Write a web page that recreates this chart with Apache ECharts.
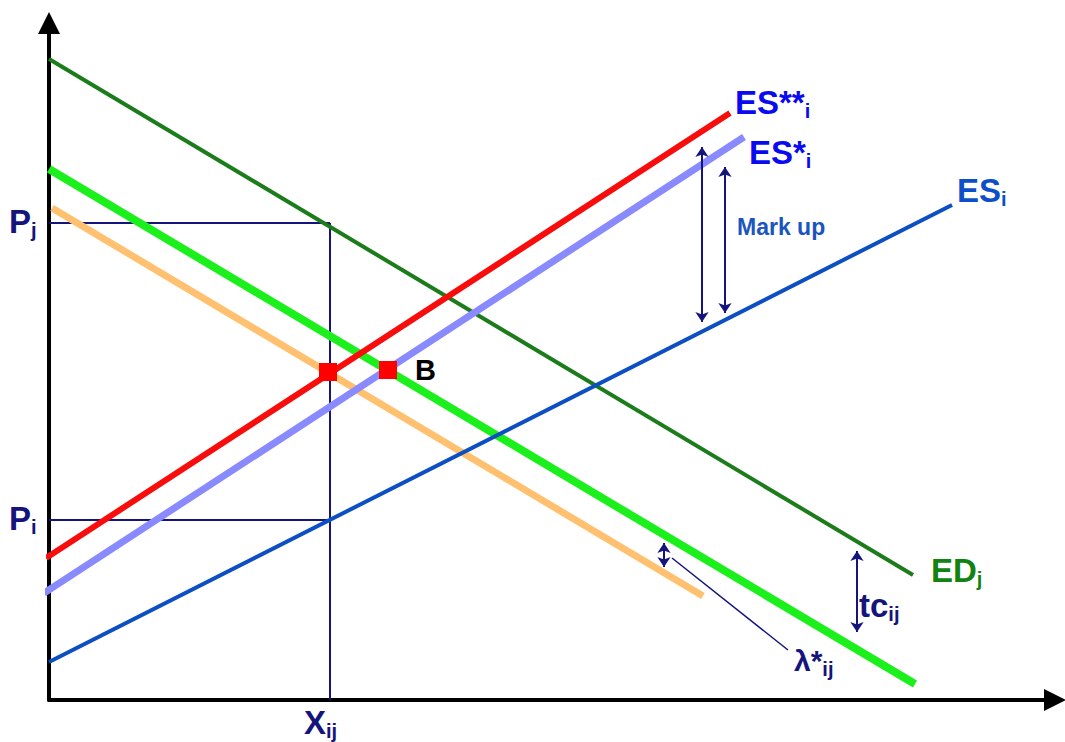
<!DOCTYPE html>
<html>
<head>
<meta charset="utf-8">
<script src="https://cdn.jsdelivr.net/npm/echarts@6/dist/echarts.min.js"></script>
<style>
  html, body { margin: 0; padding: 0; background: #fff; }
  #chart { width: 1065px; height: 742px; }
</style>
</head>
<body>
<div id="chart"></div>
<script>
// curves: [x, y] end points, origin at the axis corner
var edJ      = [[0, 641], [864, 125]];
var edJStar  = [[0, 531], [866, 16]];
var orange   = [[3, 492], [654, 104]];
var esI2     = [[-3, 142], [681, 587]];
var esI1     = [[-5, 107], [695, 563]];
var esI      = [[0, 38], [903, 495]];

// guides
var pj = 477, pi = 180, xij = 281;
var guides = [
  [[0, pj], [xij, pj]],
  [[xij, pj], [xij, 0]],
  [[0, pi], [xij, pi]]
];

// equilibrium points
var points = [[279, 328], [339, 330]];

// double arrows
var arrows = [
  [[653, 553], [653, 378]],
  [[676, 533], [676, 387]],
  [[808, 149], [808, 68]],
  [[615, 157], [615, 133]]
];
var leader = [[623, 142], [739, 50]];

var chart = echarts.init(document.getElementById('chart'), null, {renderer: 'svg'});

var sub = function (size, color) {
  return { fontSize: size, color: color, fontWeight: 'bold', padding: [Math.round(size * 0.9), 0, 0, 0] };
};

function curve(name, data, color, width) {
  return {
    name: name, type: 'line', data: data, symbol: 'none', clip: false,
    lineStyle: { color: color, width: width, cap: 'butt' }, silent: true, z: 3
  };
}

function label(pos, text, rich, align) {
  return {
    value: pos,
    label: { show: true, formatter: text, rich: rich, align: align || 'left' }
  };
}

var navy = '#14147c';

var option = {
  animation: false,
  backgroundColor: '#fff',
  textStyle: { fontFamily: 'Liberation Sans, Arial, sans-serif' },
  grid: { left: 49, right: 10, top: 23, bottom: 42 },
  xAxis: {
    type: 'value', min: 0, max: 1006,
    splitLine: { show: false }, axisTick: { show: false }, axisLabel: { show: false },
    axisLine: { onZero: false, lineStyle: { color: '#000', width: 4 }, symbol: ['none', 'triangle'], symbolSize: [22, 22] }
  },
  yAxis: {
    type: 'value', min: 0, max: 677,
    splitLine: { show: false }, axisTick: { show: false }, axisLabel: { show: false },
    axisLine: { onZero: false, lineStyle: { color: '#000', width: 4 }, symbol: ['none', 'triangle'], symbolSize: [22, 22] }
  },
  series: [
    {
      type: 'lines', coordinateSystem: 'cartesian2d', silent: true, z: 2,
      lineStyle: { color: navy, width: 2, opacity: 1 },
      data: guides.map(function (g) { return { coords: g }; })
    },
    curve('ED_j', edJ, '#1c7c1c', 4),
    curve('ED*_j', edJStar, '#1cf01c', 8),
    curve('orange', orange, '#ffc070', 7),
    curve('ES*_i', esI1, '#8a8aff', 7),
    curve('ES**_i', esI2, '#f80d0d', 6),
    curve('ES_i', esI, '#0c4fc2', 4),
    {
      type: 'lines', coordinateSystem: 'cartesian2d', silent: true, z: 5,
      symbol: ['arrow', 'arrow'], symbolSize: 10,
      lineStyle: { color: navy, width: 2, opacity: 1 },
      data: arrows.map(function (a) { return { coords: a }; })
    },
    {
      type: 'lines', coordinateSystem: 'cartesian2d', silent: true, z: 5,
      lineStyle: { color: navy, width: 1.5, opacity: 1 },
      data: [{ coords: leader }]
    },
    {
      type: 'scatter', symbol: 'rect', symbolSize: 18, silent: true, z: 6,
      itemStyle: { color: '#ff0000', opacity: 1 },
      data: points
    },
    {
      type: 'scatter', symbolSize: 0, silent: true, z: 7, clip: false,
      itemStyle: { opacity: 1 },
      label: { position: 'inside', fontWeight: 'bold' },
      data: [
        label([366, 330], '{m|B}', { m: { fontSize: 29, color: '#000', fontWeight: 'bold' } }),
        label([686, 598], '{m|ES**}{s|i}', { m: { fontSize: 33, color: '#0a0af0', fontWeight: 'bold' }, s: sub(20, '#0a0af0') }),
        label([700, 548], '{m|ES*}{s|i}', { m: { fontSize: 33, color: '#0a0af0', fontWeight: 'bold' }, s: sub(20, '#0a0af0') }),
        label([908, 510], '{m|ES}{s|i}', { m: { fontSize: 33, color: '#0c4fc8', fontWeight: 'bold' }, s: sub(20, '#0c4fc8') }),
        label([688, 473], '{m|Mark up}', { m: { fontSize: 23, color: '#1a55c0', fontWeight: 'bold' } }),
        label([882, 130], '{m|ED}{s|j}', { m: { fontSize: 33, color: '#128212', fontWeight: 'bold' }, s: sub(20, '#128212') }),
        label([810, 95], '{m|tc}{s|ij}', { m: { fontSize: 33, color: navy, fontWeight: 'bold' }, s: sub(20, navy) }),
        label([745, 40], '{m|λ*}{s|ij}', { m: { fontSize: 30, color: navy, fontWeight: 'bold' }, s: sub(20, navy) }),
        label([-40, pj + 2], '{m|P}{s|j}', { m: { fontSize: 33, color: navy, fontWeight: 'bold' }, s: sub(20, navy) }),
        label([-40, pi + 2], '{m|P}{s|i}', { m: { fontSize: 33, color: navy, fontWeight: 'bold' }, s: sub(20, navy) }),
        label([255, -22], '{m|X}{s|ij}', { m: { fontSize: 33, color: navy, fontWeight: 'bold' }, s: sub(20, navy) })
      ]
    }
  ]
};

chart.setOption(option);
</script>
</body>
</html>
